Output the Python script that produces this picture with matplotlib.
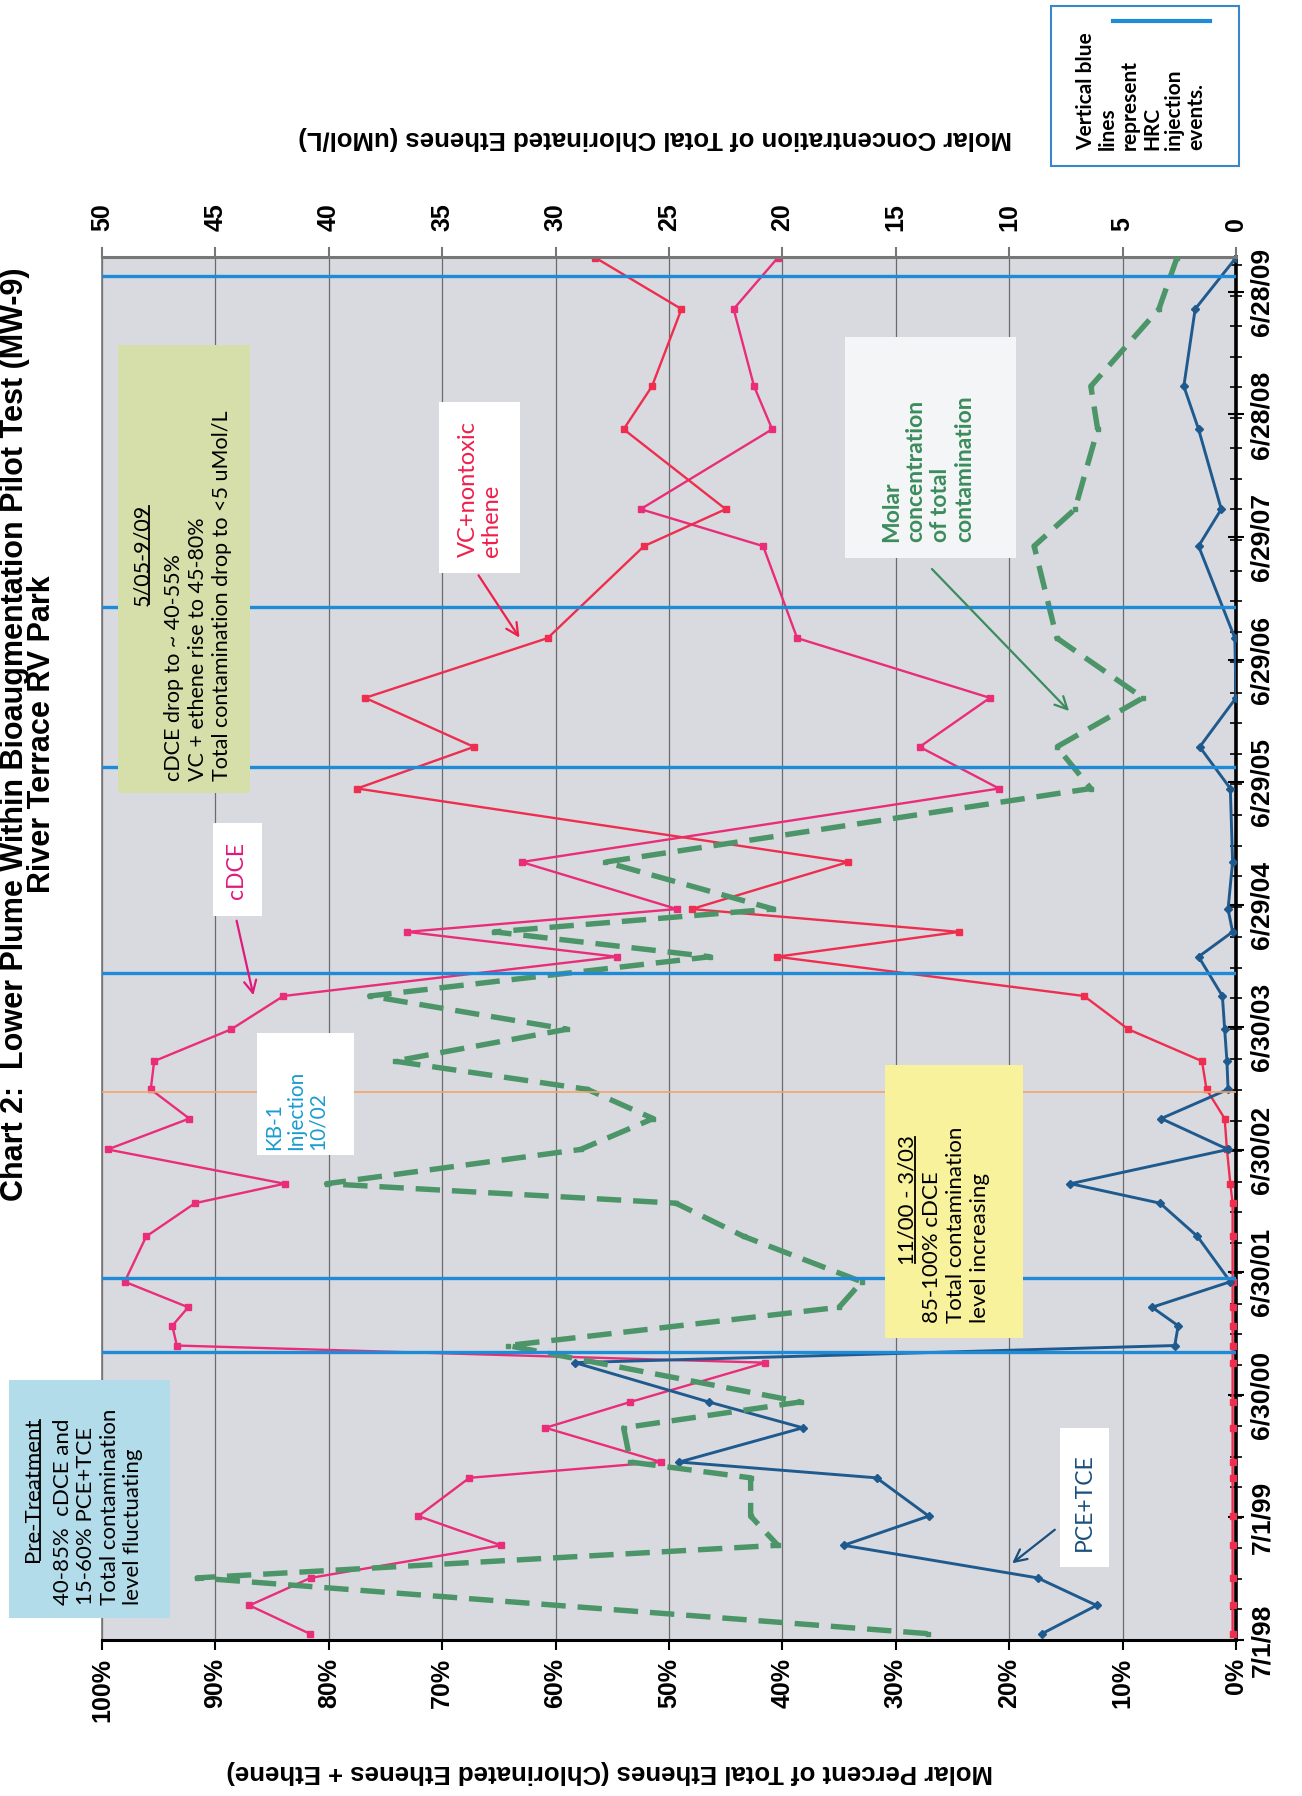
import numpy as np
import pandas as pd
import matplotlib
matplotlib.use('Agg')
import matplotlib.pyplot as plt
from matplotlib import font_manager
from matplotlib.lines import Line2D
from matplotlib.patches import Rectangle, FancyArrowPatch

#=================
# data
#=================
sample_dates = ['1998-07-20', '1998-10-12', '1999-01-02', '1999-04-09', '1999-07-05',
                '1999-10-27', '1999-12-13', '2000-03-24', '2000-06-09', '2000-10-04',
                '2000-11-24', '2001-01-22', '2001-03-18', '2001-06-02', '2001-10-15',
                '2002-01-22', '2002-03-21', '2002-07-01', '2002-10-01', '2002-12-27',
                '2003-03-21', '2003-06-24', '2003-10-01', '2004-01-26', '2004-04-09',
                '2004-06-16', '2004-11-03', '2005-06-10', '2005-10-12', '2006-03-07',
                '2006-09-01', '2007-06-02', '2007-09-20', '2008-05-15', '2008-09-20',
                '2009-05-08', '2009-10-08']

# molar percent of total ethenes
cdce = [81.7, 87.0, 81.6, 64.8, 72.1, 67.6, 50.7, 60.9, 53.4, 41.5,
        93.4, 93.8, 92.4, 98.0, 96.1, 91.8, 83.9, 99.5, 92.3, 95.7,
        95.4, 88.6, 84.0, 54.6, 73.1, 49.3, 63.0, 20.9, 27.9, 21.7,
        38.7, 41.7, 52.5, 40.9, 42.5, 44.3, 40.4]
vc_ethene = [0.3, 0.3, 0.3, 0.3, 0.3, 0.3, 0.3, 0.3, 0.3, 0.3,
             0.3, 0.3, 0.3, 0.3, 0.3, 0.3, 0.5, 0.8, 1.0, 2.6,
             3.0, 9.5, 13.4, 40.5, 24.4, 48.0, 34.2, 77.5, 67.2, 76.8,
             60.7, 52.2, 45.0, 54.0, 51.5, 48.9, 56.5]
pce_tce = [17.1, 12.3, 17.5, 34.6, 27.1, 31.7, 49.1, 38.2, 46.5, 58.3,
           5.4, 5.1, 7.4, 0.5, 3.4, 6.7, 14.6, 0.7, 6.6, 0.7,
           0.8, 1.0, 1.2, 3.3, 0.3, 0.7, 0.3, 0.5, 3.2, 0.0,
           0.1, 3.3, 1.3, 3.3, 4.6, 3.6, 0.0]
# molar concentration of total chlorinated ethenes (uMol/L), nan = not sampled
total_umol = [13.6, np.nan, 45.8, 20.2, 21.4, 21.4, 26.7, 27.0, 19.2, np.nan,
              32.1, np.nan, 17.5, 16.5, 21.7, 24.7, 40.1, 28.9, 25.7, 28.6,
              37.1, 29.5, 38.2, 23.2, 32.7, 20.4, 27.8, 6.4, 7.9, 4.1,
              7.9, 8.9, 7.1, 6.1, 6.4, 3.4, 2.6]

hrc_dates = ['2000-11-06', '2001-06-13', '2003-12-09', '2005-08-14', '2006-12-02', '2009-08-14']
kb1_date = '2002-12-20'

date_ticks = ['1998-07-01', '1999-07-01', '2000-06-30', '2001-06-30', '2002-06-30', '2003-06-30',
              '2004-06-29', '2005-06-29', '2006-06-29', '2007-06-29', '2008-06-28', '2009-06-28']
date_labels = ['7/1/98', '7/1/99', '6/30/00', '6/30/01', '6/30/02', '6/30/03',
               '6/29/04', '6/29/05', '6/29/06', '6/29/07', '6/28/08', '6/28/09']
pct_ticks = [0, 10, 20, 30, 40, 50, 60, 70, 80, 90, 100]
pct_labels = ['0%', '10%', '20%', '30%', '40%', '50%', '60%', '70%', '80%', '90%', '100%']
conc_ticks = [0, 5, 10, 15, 20, 25, 30, 35, 40, 45, 50]
conc_labels = ['0', '5', '10', '15', '20', '25', '30', '35', '40', '45', '50']

#=================
# fonts
#=================
names = {f.name for f in font_manager.fontManager.ttflist}
NARROW = 'Liberation Sans Narrow' if 'Liberation Sans Narrow' in names else 'Liberation Sans'
ARIAL = 'Liberation Sans'
CAL = 'Lato' if 'Lato' in names else 'DejaVu Sans'

def has_bold(fam):
    for f in font_manager.fontManager.ttflist:
        w = f.weight if isinstance(f.weight, int) else (700 if 'bold' in str(f.weight) else 400)
        if f.name == fam and w >= 600 and f.style == 'normal':
            return True
    return False

CAL_B = 'DejaVu Sans'
for fam in [CAL, 'Open Sans', 'Noto Sans', 'Roboto']:
    if has_bold(fam):
        CAL_B = fam
        break

W, H = 1302, 1796
fig = plt.figure(figsize=(W / 100, H / 100), dpi=100)
fig.patch.set_facecolor('white')

def fx(x):
    return x / W

def fy(y):
    return 1 - y / H

# plot frame (pixel positions measured on the picture)
L, R, T, B = 102, 1236, 257, 1640
ax = fig.add_axes([fx(L), fy(B), (R - L) / W, (B - T) / H])
ax.set_facecolor('#D8DAE0')

dates = pd.to_datetime(sample_dates)

# vertical gridlines at every 10%
ax.set_xlim(100, 0)
ax.set_xticks(pct_ticks)
ax.set_xticklabels(pct_labels, rotation=90, fontsize=18, fontweight='bold', family=ARIAL)
ax.grid(axis='x', color='#6B6B6B', lw=0.9)
ax.set_axisbelow(True)

ax.plot(cdce, dates, color='#EA2D78', lw=1.7, marker='s', ms=4, zorder=3)
ax.plot(vc_ethene, dates, color='#EE2D4F', lw=1.7, marker='s', ms=4, zorder=3)
ax.plot(pce_tce, dates, color='#1F5A8E', lw=2.1, marker='D', ms=4, zorder=3)

ax.set_ylim(pd.Timestamp('1998-07-01'), pd.Timestamp('2009-10-10'))
ax.yaxis.tick_right()
ax.set_yticks(pd.to_datetime(date_ticks))
ax.set_yticklabels(date_labels, rotation=90, va='center', fontsize=19, fontweight='bold', family=NARROW)
minor = pd.date_range('1998-07-01', '2009-10-01', freq='91D')
ax.set_yticks(minor, minor=True)
ax.tick_params(axis='y', which='major', direction='inout', length=12, width=1.5, pad=4)
ax.tick_params(axis='y', which='minor', direction='inout', length=8, width=1.2)
ax.tick_params(axis='x', direction='out', length=7, width=1.5, pad=6)

ax.spines['top'].set_visible(False)
ax.spines['left'].set_color('#777777')
ax.spines['left'].set_linewidth(1.2)
ax.spines['bottom'].set_linewidth(2.2)
ax.spines['right'].set_linewidth(2.6)

# secondary axis: molar concentration (top)
axc = ax.twiny()
axc.set_xlim(50, 0)
axc.set_xticks(conc_ticks)
axc.set_xticklabels(conc_labels, rotation=90, fontsize=18, fontweight='bold', family=ARIAL)
axc.tick_params(axis='x', direction='out', length=7, width=1.5, color='#777777', pad=12)
for s in ['left', 'right', 'bottom']:
    axc.spines[s].set_visible(False)
axc.spines['top'].set_color('#777777')
axc.spines['top'].set_linewidth(2.2)

tot = pd.Series(total_umol, index=dates).dropna()
axc.plot(tot.values, tot.index, color='#4C9568', lw=3.9, ls=(0, (4.5, 2.2)),
         marker='s', ms=3, zorder=3)

for d in hrc_dates:
    axc.axhline(pd.Timestamp(d), color='#1F8AD6', lw=2.4, zorder=4)
axc.axhline(pd.Timestamp(kb1_date), color='#F2A46A', lw=1.2, zorder=4)

#=================
# titles and axis labels
#=================
fig.text(fx(15), fy(734), 'Chart 2:  Lower Plume Within Bioaugmentation Pilot Test (MW-9)',
         rotation=90, ha='center', va='center', fontsize=22, fontweight='bold', family=NARROW)
fig.text(fx(42), fy(734), 'River Terrace RV Park',
         rotation=90, ha='center', va='center', fontsize=22, fontweight='bold', family=NARROW)
fig.text(fx(610), fy(1772), 'Molar Percent of Total Ethenes (Chlorinated Ethenes + Ethene)',
         rotation=180, ha='center', va='center', fontsize=18.5, fontweight='bold', family=NARROW)
fig.text(fx(655), fy(138), 'Molar Concentration of Total Chlorinated Ethenes (uMol/L)',
         rotation=180, ha='center', va='center', fontsize=18.5, fontweight='bold', family=NARROW)

#=================
# annotation boxes
#=================
def box(x0, y0, x1, y1, fc, ec='none', lw=0):
    fig.add_artist(Rectangle((fx(x0), fy(y1)), (x1 - x0) / W, (y1 - y0) / H,
                             transform=fig.transFigure, fc=fc, ec=ec, lw=lw, zorder=5))

def label(x, y, s, color='black', size=15, weight='normal', va='center', ls=1.25):
    fam = CAL_B if weight == 'bold' else CAL
    return fig.text(fx(x), fy(y), s, rotation=90, ha='center', va=va, color=color,
                    fontsize=size, fontweight=weight, family=fam, multialignment='left',
                    linespacing=ls, zorder=6)

def arrow(x0, y0, x1, y1, color):
    fig.add_artist(FancyArrowPatch((fx(x0), fy(y0)), (fx(x1), fy(y1)), transform=fig.transFigure,
                                   arrowstyle='->', mutation_scale=22, color=color, lw=1.6, zorder=6))

underlined = []

box(9, 1380, 170, 1618, '#B2DCE9')
underlined.append(label(33, 1490, 'Pre-Treatment', size=16))
label(98, 1605, '40-85%  cDCE and\n15-60% PCE+TCE\nTotal contamination\nlevel fluctuating',
      size=16, va='bottom', ls=1.22)

box(118, 345, 250, 793, '#D6DFA9')
underlined.append(label(142, 555, '5/05-9/09', size=15.5))
label(198, 781, 'cDCE drop to ~ 40-55%\nVC + ethene rise to 45-80%\nTotal contamination drop to <5 uMol/L',
      size=15.5, va='bottom', ls=1.25)

box(213, 823, 262, 916, 'white')
label(237, 870, 'cDCE', color='#E0197D', size=16.5)
arrow(236, 918, 254, 998, '#E0197D')

box(439, 402, 520, 573, 'white')
label(480, 557, 'VC+nontoxic\nethene', color='#F01E4B', size=17, va='bottom', ls=1.15)
arrow(477, 573, 521, 640, '#F01E4B')

box(845, 337, 1016, 558, '#F4F5F7')
label(928, 542, 'Molar\nconcentration\nof total\ncontamination', color='#3B8C5C', size=16.5,
      weight='bold', va='bottom', ls=1.2)
arrow(930, 567, 1071, 713, '#3B8C5C')

box(257, 1033, 354, 1155, 'white')
label(296, 1150, 'KB-1\nInjection\n10/02', color='#1A9BD0', size=15, va='bottom', ls=1.12)

box(885, 1065, 1023, 1338, '#F8F29C')
underlined.append(label(908, 1200, '11/00 - 3/03', size=16))
label(956, 1323, '85-100% cDCE\nTotal contamination\nlevel increasing', size=16, va='bottom', ls=1.22)

box(1060, 1428, 1109, 1567, 'white')
label(1084, 1502, 'PCE+TCE', color='#1B4F7C', size=16.5)
arrow(1057, 1528, 1010, 1565, '#1B4F7C')

box(1051, 6, 1239, 166, 'white', ec='#3A86C8', lw=1.5)
fig.add_artist(Line2D([fx(1113), fx(1210)], [fy(21), fy(21)], transform=fig.transFigure,
                      color='#1F8AD6', lw=3, zorder=6))
label(1141, 150, 'Vertical blue\nlines\nrepresent\nHRC\ninjection\nevents.', size=15,
      weight='bold', va='bottom', ls=1.12)

# underline the box headings
fig.canvas.draw()
rend = fig.canvas.get_renderer()
inv = fig.transFigure.inverted()
for t in underlined:
    bb = t.get_window_extent(rend)
    (ux, uy0) = inv.transform((bb.x1 - 3, bb.y0 + 2))
    (_, uy1) = inv.transform((bb.x1 - 3, bb.y1 - 2))
    fig.add_artist(Line2D([ux, ux], [uy0, uy1], transform=fig.transFigure, color='black',
                          lw=1.3, zorder=6))

fig.savefig('out.png', dpi=100)
